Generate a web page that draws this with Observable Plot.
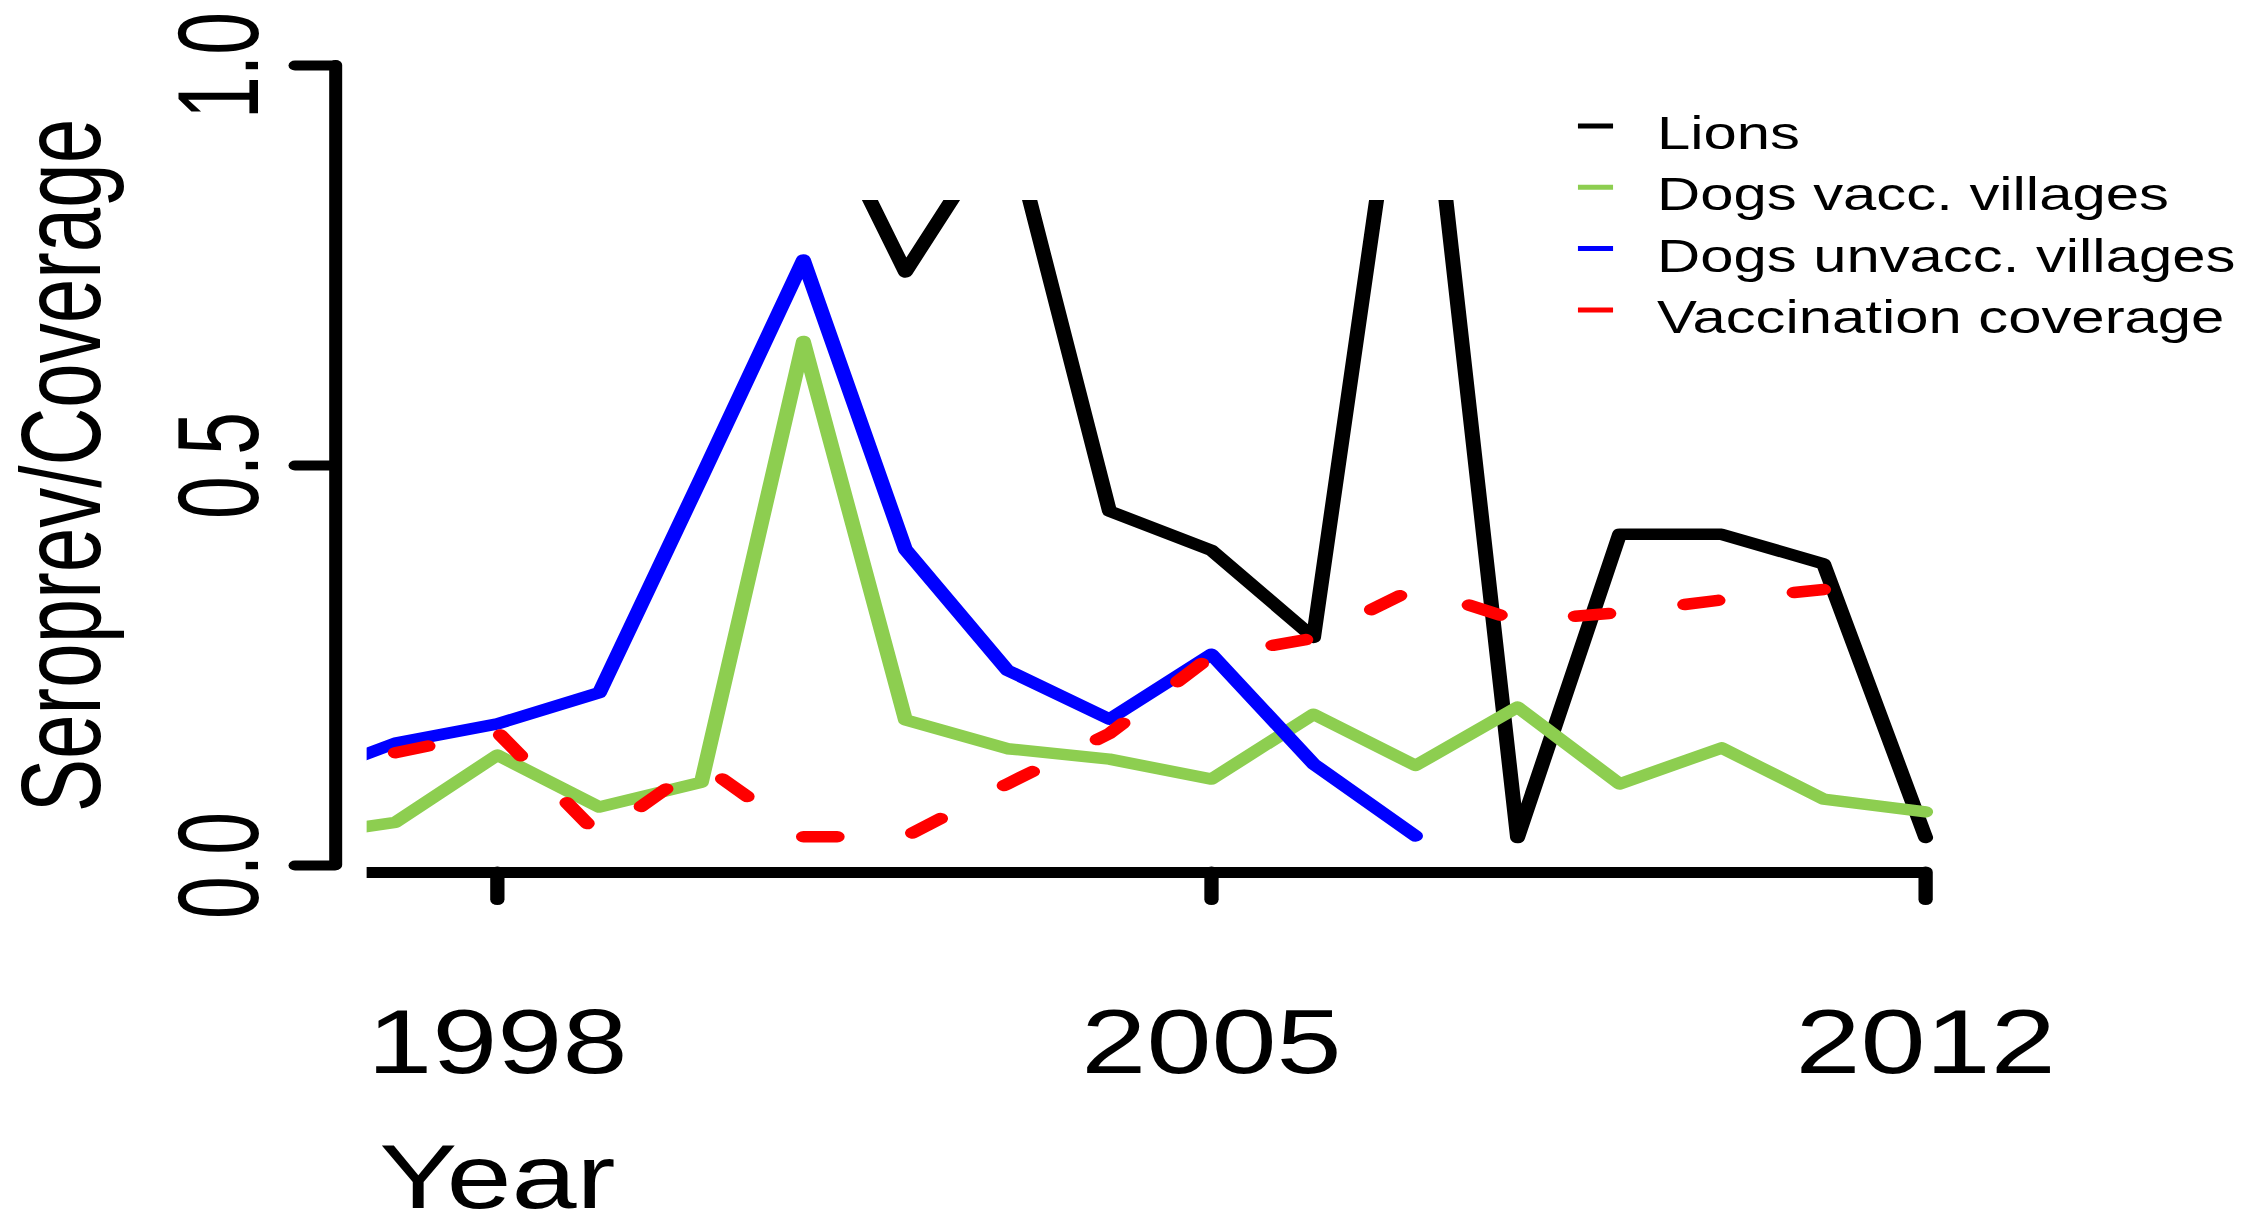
<!DOCTYPE html>
<html>
<head>
<meta charset="utf-8">
<script src="https://cdn.jsdelivr.net/npm/d3@7"></script>
<script src="https://cdn.jsdelivr.net/npm/@observablehq/plot@0.6"></script>
<style>
  html, body { margin: 0; padding: 0; background: #ffffff; }
  #chart { width: 2244px; height: 1214px; overflow: hidden; }
</style>
</head>
<body>
<div id="chart"></div>
<script>
// ---------------- data ----------------
const seriesNames = ["Lions", "Dogs vacc. villages", "Dogs unvacc. villages", "Vaccination coverage"];
const seriesColors = ["#000000", "#8dce50", "#0000ff", "#ff0000"];

const lionYears = [2001, 2002, 2003, 2004, 2005, 2006, 2007, 2008, 2009, 2010, 2011, 2012];
const lionValues = [1.0, 0.742, 0.94, 0.443, 0.394, 0.285, 1.17, 0.035, 0.414, 0.414, 0.377, 0.035];

const vaccVillageYears = [1996, 1997, 1998, 1999, 2000, 2001, 2002, 2003, 2004, 2005, 2006, 2007, 2008, 2009, 2010, 2011, 2012];
const vaccVillageValues = [0.035, 0.054, 0.138, 0.073, 0.104, 0.655, 0.182, 0.146, 0.133, 0.108, 0.189, 0.125, 0.198, 0.102, 0.147, 0.083, 0.067];

const unvaccVillageYears = [1996, 1997, 1998, 1999, 2000, 2001, 2002, 2003, 2004, 2005, 2006, 2007];
const unvaccVillageValues = [0.105, 0.153, 0.177, 0.216, 0.485, 0.757, 0.395, 0.244, 0.183, 0.264, 0.127, 0.037];

const coverageYears = [1997, 1998, 1999, 2000, 2001, 2002, 2003, 2004, 2005, 2006, 2007, 2008, 2009, 2010, 2011];
const coverageValues = [0.141, 0.167, 0.037, 0.127, 0.036, 0.036, 0.102, 0.165, 0.262, 0.284, 0.347, 0.306, 0.316, 0.332, 0.345];

const xTicks = [1998, 2005, 2012];
const yTicks = [0, 0.5, 1];
const xTitle = "Year";
const yTitle = "Seroprev/Coverage";

// ---------------- layout ----------------
const W = 2244, H = 1214;
const S = 1.3;                 // horizontal stretch of the original figure
const W0 = Math.round(W / S);  // drawing width before the stretch
const xDomain = [1996.725, 2012.4];
const yDomain = [0, 0.83125];
const font = "'Liberation Sans', Arial, Helvetica, sans-serif";

const toRows = (years, values) => years.map((year, i) => ({year, value: values[i]}));
const tables = [
  toRows(lionYears, lionValues),
  toRows(vaccVillageYears, vaccVillageValues),
  toRows(unvaccVillageYears, unvaccVillageValues),
  toRows(coverageYears, coverageValues)
];

const lineStyle = {x: "year", y: "value", strokeWidth: 11.5, strokeLinejoin: "round", strokeLinecap: "round", clip: true};

const svg = Plot.plot({
  width: W0,
  height: H,
  marginLeft: 282,
  marginRight: 214,
  marginTop: 200,
  marginBottom: 349,
  x: {domain: xDomain, axis: null},
  y: {domain: yDomain, axis: null},
  style: {fontFamily: font, background: "#ffffff", color: "#000000", overflow: "visible"},
  marks: [
    Plot.line(tables[0], {...lineStyle, stroke: seriesColors[0]}),
    Plot.line(tables[1], {...lineStyle, stroke: seriesColors[1]}),
    Plot.line(tables[2], {...lineStyle, stroke: seriesColors[2]}),
    Plot.line(tables[3], {...lineStyle, stroke: seriesColors[3], strokeDasharray: "26,59"}),
    // y axis line
    Plot.ruleX([xDomain[0]], {x: d => d, y1: yTicks[0], y2: yTicks[yTicks.length - 1], dx: -24.3, strokeWidth: 10, strokeLinecap: "round"}),
    Plot.axisY(yTicks, {
      anchor: "left", label: null, tickSize: 30.8, tickPadding: 29.2, tickRotate: -90, dx: -24.3,
      fontSize: 77, strokeWidth: 10, strokeLinecap: "round", tickFormat: d3.format(".1f")
    }),
    // x axis line
    Plot.ruleY([yTicks[0]], {y: d => d, x1: xDomain[0], x2: xTicks[xTicks.length - 1], dy: 7, strokeWidth: 11}),
    Plot.axisX(xTicks, {
      anchor: "bottom", label: null, tickSize: 27.5, tickPadding: 109.5, dy: 7,
      fontSize: 90, strokeWidth: 11, strokeLinecap: "round", tickFormat: d => String(d)
    }),
    Plot.text([xTitle], {x: () => xTicks[0], frameAnchor: "bottom", dy: 342, lineAnchor: "bottom", fontSize: 90, text: d => d}),
    Plot.text([yTitle], {y: () => (yTicks[0] + yTicks[yTicks.length - 1]) / 2, frameAnchor: "left", dx: -205.9,
      rotate: -90, textAnchor: "middle", lineAnchor: "bottom", fontSize: 80, text: d => d})
  ]
});

// rotated texts of the reference are a little taller across than the stretch alone gives
d3.select(svg).selectAll('g[aria-label="y-axis tick label"] text').each(function () {
  const t = this.getAttribute("transform") || "";
  this.setAttribute("transform", t.replace("rotate(", "scale(1.14,1) rotate("));
});
d3.select(svg).selectAll('g[aria-label="text"] text').each(function () {
  const t = this.getAttribute("transform") || "";
  if (t.includes("rotate(")) this.setAttribute("transform", t.replace("rotate(", "scale(1.08,1) rotate("));
});

// legend (inside the plot, top right)
const lg = d3.select(svg).append("g")
  .attr("font-family", font).attr("font-size", 46).attr("fill", "#000000").attr("text-anchor", "start");
seriesNames.forEach((name, i) => {
  const yLine = 126 + i * 61.3;
  lg.append("line")
    .attr("x1", 1213.7).attr("x2", 1240.7)
    .attr("y1", yLine).attr("y2", yLine)
    .attr("stroke", seriesColors[i]).attr("stroke-width", 5);
  lg.append("text")
    .attr("x", 1274.5).attr("y", 149 + i * 61.3)
    .attr("text-anchor", "start")
    .text(name);
});

// stretch the whole drawing horizontally, as in the reference
svg.setAttribute("width", W);
svg.setAttribute("height", H);
svg.setAttribute("viewBox", `0 0 ${W0} ${H}`);
svg.setAttribute("preserveAspectRatio", "none");
svg.style.width = W + "px";
svg.style.height = H + "px";
svg.style.maxWidth = "none";

document.getElementById("chart").appendChild(svg);
</script>
</body>
</html>
